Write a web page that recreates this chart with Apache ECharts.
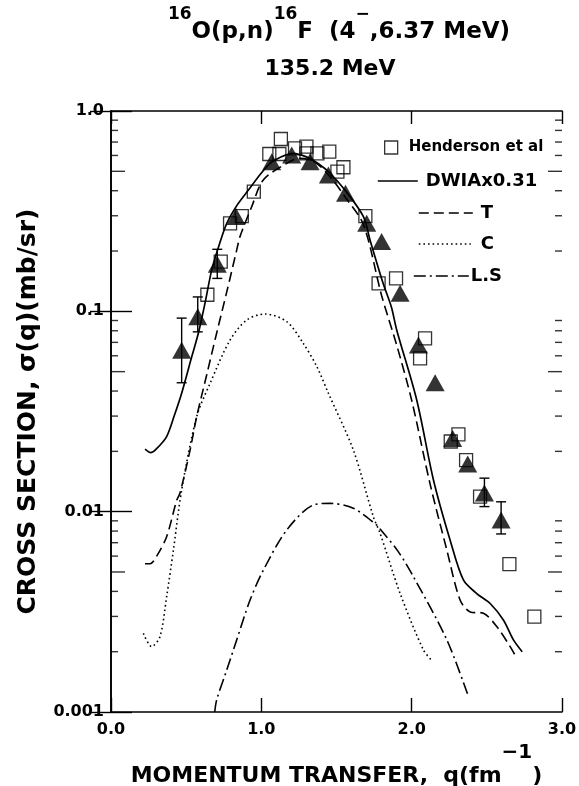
<!DOCTYPE html>
<html><head><meta charset="utf-8">
<script src="https://cdn.jsdelivr.net/npm/echarts@6/dist/echarts.min.js"></script>
<style>html,body{margin:0;padding:0;background:#fff}#c{width:579px;height:786px}</style>
</head><body><div id="c"></div>
<script>
// ---- tick labels ----
const xTickLabels = ['0.0', '1.0', '2.0', '3.0'];
const yTickValues = [0.001, 0.01, 0.1, 1];
const yTickLabels = ['0.001', '0.01', '0.1', '1.0'];
const minorTickValues = [0.002,0.003,0.004,0.005,0.006,0.007,0.008,0.009,
  0.02,0.03,0.04,0.05,0.06,0.07,0.08,0.09,
  0.2,0.3,0.4,0.5,0.6,0.7,0.8,0.9];

// ---- Henderson et al (open squares) ----
const hendersonQ = [0.641,0.73,0.792,0.87,0.95,1.053,1.12,1.13,1.224,1.30,1.30,1.373,1.452,1.546,1.506,1.692,1.78,1.896,2.056,2.089,2.26,2.311,2.362,2.455,2.65,2.816];
const hendersonSigma = [0.121,0.177,0.275,0.299,0.396,0.61,0.61,0.725,0.651,0.664,0.615,0.615,0.627,0.524,0.498,0.299,0.138,0.146,0.0582,0.0733,0.0224,0.0243,0.0181,0.0119,0.00547,0.00299];

// ---- present data (filled triangles) ----
const triangleQ = [0.47,0.577,0.707,0.832,1.069,1.202,1.324,1.446,1.56,1.701,1.80,1.923,2.045,2.156,2.273,2.373,2.484,2.595];
const triangleSigma = [0.064,0.094,0.172,0.297,0.558,0.603,0.558,0.479,0.388,0.275,0.223,0.123,0.0679,0.044,0.0232,0.0173,0.0124,0.00908];

// ---- error bars ----
const errQ = [0.47,0.577,0.707,2.484,2.595];
const errLo = [0.044,0.079,0.146,0.0106,0.00774];
const errHi = [0.0925,0.118,0.204,0.0147,0.0112];

// ---- DWIA x 0.31 (solid) ----
const dwiaQ = [0.227,0.264,0.30,0.37,0.42,0.47,0.537,0.581,0.625,0.67,0.72,0.77,0.84,0.914,1.00,1.058,1.13,1.213,1.30,1.38,1.457,1.56,1.679,1.723,1.81,1.865,1.90,2.034,2.145,2.256,2.344,2.433,2.522,2.61,2.677,2.735];
const dwiaSigma = [0.0205,0.0197,0.0205,0.0237,0.030,0.039,0.0593,0.0777,0.1096,0.161,0.215,0.275,0.34,0.403,0.49,0.548,0.59,0.615,0.59,0.545,0.489,0.40,0.297,0.227,0.138,0.105,0.081,0.036,0.0144,0.0072,0.00456,0.0039,0.00348,0.00288,0.00229,0.0020];

// ---- T (dashed) ----
const tQ = [0.226,0.26,0.304,0.37,0.437,0.459,0.526,0.57,0.636,0.703,0.77,0.836,0.858,0.936,1.013,1.169,1.25,1.35,1.457,1.56,1.68,1.80,1.90,2.0,2.122,2.234,2.322,2.389,2.477,2.566,2.655,2.70];
const tSigma = [0.0055,0.0055,0.0060,0.0075,0.0114,0.0124,0.0203,0.0298,0.048,0.078,0.125,0.202,0.236,0.333,0.453,0.548,0.58,0.56,0.47,0.37,0.27,0.12,0.068,0.036,0.0138,0.00643,0.00362,0.00316,0.00311,0.00267,0.00212,0.00185];

// ---- C (dotted) ----
const cQ = [0.215,0.27,0.326,0.37,0.415,0.47,0.57,0.659,0.792,0.903,1.025,1.169,1.279,1.369,1.446,1.612,1.745,1.79,1.923,2.078,2.136];
const cSigma = [0.00247,0.00212,0.00238,0.00376,0.00643,0.0128,0.0298,0.0437,0.0719,0.0905,0.097,0.0888,0.0692,0.053,0.039,0.0203,0.00944,0.0078,0.00391,0.00204,0.0018];

// ---- L.S (dash-dot) ----
const lsQ = [0.69,0.703,0.77,0.836,0.925,1.013,1.169,1.346,1.457,1.612,1.768,1.79,1.912,2.012,2.234,2.375];
const lsSigma = [0.001,0.00115,0.00162,0.00229,0.00362,0.0051,0.0081,0.0108,0.011,0.0104,0.00857,0.0082,0.0063,0.00473,0.00229,0.00121];

const FONT = '"DejaVu Sans", "Liberation Sans", sans-serif';
const zip = (a, b) => a.map((v, i) => [v, b[i]]);
const minorLen = v => { const m = Math.round(v / Math.pow(10, Math.floor(Math.log10(v) + 1e-9))); return m === 5 ? 14 : 7; };

const chart = echarts.init(document.getElementById('c'), null, {renderer: 'canvas'});

const axisLine = {show: true, lineStyle: {color: '#000', width: 1.6}};
const txt = (size, extra) => Object.assign({fontFamily: FONT, fontSize: size, fontWeight: 'bold', color: '#000'}, extra || {});

const option = {
  backgroundColor: '#fff',
  animation: false,
  title: [
    {
      text: '{s|16}{b|O(p,n)}{s|16}{b|F  (4}{s|−}{b|,6.37 MeV)}',
      left: 339, top: 0, textAlign: 'center', padding: 0,
      textStyle: {
        rich: {
          b: txt(23, {lineHeight: 44, verticalAlign: 'bottom'}),
          s: txt(17, {lineHeight: 12, verticalAlign: 'top', padding: [6, 0, 0, 0]})
        }
      }
    },
    {
      text: '135.2 MeV', left: 330, top: 58, textAlign: 'center', padding: 0,
      textStyle: txt(22)
    }
  ],
  grid: {left: 111, top: 111, width: 451, height: 601, containLabel: false, outerBoundsMode: 'none'},
  xAxis: [
    {
      type: 'value', min: 0, max: 3, interval: 1, position: 'bottom',
      axisLine: axisLine,
      axisTick: {show: true, inside: true, length: 14, lineStyle: {color: '#000', width: 1.4}},
      splitLine: {show: false},
      axisLabel: txt(16, {margin: 10, formatter: v => xTickLabels[Math.round(v)]}),
      name: '{a|MOMENTUM TRANSFER,  q(fm}{s|−1}{a|)}',
      nameLocation: 'middle', nameGap: 31,
      nameTextStyle: {
        rich: {
          a: txt(22, {lineHeight: 44, verticalAlign: 'bottom'}),
          s: txt(20, {lineHeight: 4, verticalAlign: 'top'})
        }
      }
    },
    {
      type: 'value', min: 0, max: 3, interval: 1, position: 'top',
      axisLine: axisLine,
      axisTick: {show: true, inside: true, length: 13, lineStyle: {color: '#000', width: 1.4}},
      splitLine: {show: false}, axisLabel: {show: false}
    }
  ],
  yAxis: [
    {
      type: 'log', logBase: 10, min: 0.001, max: 1, position: 'left',
      axisLine: axisLine,
      axisTick: {show: true, inside: true, length: 21, lineStyle: {color: '#000', width: 1.4}},
      splitLine: {show: false},
      axisLabel: txt(16, {margin: 7,
        formatter: v => { const i = yTickValues.findIndex(t => Math.abs(Math.log10(t) - Math.log10(v)) < 1e-6); return i >= 0 ? yTickLabels[i] : ''; }}),
      name: 'CROSS SECTION, σ(q)(mb/sr)', nameLocation: 'middle', nameGap: 70,
      nameTextStyle: txt(25)
    },
    {
      type: 'log', logBase: 10, min: 0.001, max: 1, position: 'right',
      axisLine: axisLine,
      axisTick: {show: true, inside: true, length: 21, lineStyle: {color: '#000', width: 1.4}},
      splitLine: {show: false}, axisLabel: {show: false}
    }
  ],
  legend: [
    {
      data: ['Henderson et al'], left: 384, top: 140, padding: 0, itemWidth: 13, itemHeight: 13,
      selectedMode: false,
      itemStyle: {color: 'rgba(0,0,0,0)', borderColor: '#000', borderWidth: 1.3},
      textStyle: txt(15, {padding: [0, 0, 0, 6]})
    },
    {
      data: ['DWIAx0.31'], left: 377, top: 172, padding: 0, itemWidth: 40, itemHeight: 18,
      selectedMode: false,
      itemStyle: {color: 'rgba(0,0,0,0)', borderWidth: 0, opacity: 0},
      lineStyle: {color: '#000', width: 1.6, type: 'solid'},
      textStyle: txt(18, {padding: [0, 0, 0, 3]})
    },
    {
      data: ['T'], left: 418, top: 204, padding: 0, itemWidth: 54, itemHeight: 18,
      selectedMode: false,
      itemStyle: {color: 'rgba(0,0,0,0)', borderWidth: 0, opacity: 0},
      lineStyle: {color: '#000', width: 1.6, type: [10, 5]},
      textStyle: txt(18, {padding: [0, 0, 0, 3]})
    },
    {
      data: ['C'], left: 418, top: 235, padding: 0, itemWidth: 52, itemHeight: 18,
      selectedMode: false,
      itemStyle: {color: 'rgba(0,0,0,0)', borderWidth: 0, opacity: 0},
      lineStyle: {color: '#000', width: 1.6, type: [1.6, 3]},
      textStyle: txt(18, {padding: [0, 0, 0, 5]})
    },
    {
      data: ['L.S'], left: 413, top: 267, padding: 0, itemWidth: 55, itemHeight: 18,
      selectedMode: false,
      itemStyle: {color: 'rgba(0,0,0,0)', borderWidth: 0, opacity: 0},
      lineStyle: {color: '#000', width: 1.6, type: [12, 4, 2, 4]},
      textStyle: txt(18, {padding: [0, 0, 0, -3]})
    }
  ],
  series: [
    {
      name: 'minor ticks left', type: 'scatter', xAxisIndex: 0, yAxisIndex: 0, silent: true, clip: false, z: 1,
      data: minorTickValues.map(v => ({value: [0, v], symbolSize: [minorLen(v), 1.4], symbolOffset: [minorLen(v) / 2, 0]})),
      symbol: 'rect', itemStyle: {color: '#000'}
    },
    {
      name: 'minor ticks right', type: 'scatter', xAxisIndex: 0, yAxisIndex: 0, silent: true, clip: false, z: 1,
      data: minorTickValues.map(v => ({value: [3, v], symbolSize: [minorLen(v), 1.4], symbolOffset: [-minorLen(v) / 2, 0]})),
      symbol: 'rect', itemStyle: {color: '#000'}
    },
    {
      name: 'DWIAx0.31', type: 'line', data: zip(dwiaQ, dwiaSigma), smooth: 0.3,
      symbol: 'none', showSymbol: false, itemStyle: {color: '#000'},
      lineStyle: {color: '#000', width: 1.7, type: 'solid'}, z: 3
    },
    {
      name: 'T', type: 'line', data: zip(tQ, tSigma), smooth: 0.3,
      symbol: 'none', showSymbol: false, itemStyle: {color: '#000'},
      lineStyle: {color: '#000', width: 1.6, type: [10, 5]}, z: 3
    },
    {
      name: 'C', type: 'line', data: zip(cQ, cSigma), smooth: 0.3,
      symbol: 'none', showSymbol: false, itemStyle: {color: '#000'},
      lineStyle: {color: '#000', width: 1.6, type: [1.6, 3]}, z: 3
    },
    {
      name: 'L.S', type: 'line', data: zip(lsQ, lsSigma), smooth: 0.3,
      symbol: 'none', showSymbol: false, itemStyle: {color: '#000'},
      lineStyle: {color: '#000', width: 1.6, type: [12, 4, 2, 4]}, z: 3
    },
    {
      name: 'Henderson et al', type: 'scatter', data: zip(hendersonQ, hendersonSigma),
      symbol: 'rect', symbolSize: 13,
      itemStyle: {color: 'rgba(0,0,0,0)', borderColor: '#000', borderWidth: 1.3}, z: 4
    },
    {
      name: 'error bars', type: 'custom', silent: true, z: 5,
      data: errQ.map((q, i) => [q, errLo[i], errHi[i]]),
      encode: {x: 0, y: [1, 2]},
      renderItem: (params, api) => {
        const q = api.value(0);
        const pLo = api.coord([q, api.value(1)]);
        const pHi = api.coord([q, api.value(2)]);
        const w = 5, st = {stroke: '#000', lineWidth: 1.4};
        return {type: 'group', children: [
          {type: 'line', shape: {x1: pLo[0], y1: pLo[1], x2: pHi[0], y2: pHi[1]}, style: st},
          {type: 'line', shape: {x1: pLo[0] - w, y1: pLo[1], x2: pLo[0] + w, y2: pLo[1]}, style: st},
          {type: 'line', shape: {x1: pHi[0] - w, y1: pHi[1], x2: pHi[0] + w, y2: pHi[1]}, style: st}
        ]};
      }
    },
    {
      name: 'present data', type: 'scatter', data: zip(triangleQ, triangleSigma),
      symbol: 'triangle', symbolSize: [19, 17],
      itemStyle: {color: '#000'}, z: 6
    }
  ]
};
chart.setOption(option);
</script>
</body></html>
